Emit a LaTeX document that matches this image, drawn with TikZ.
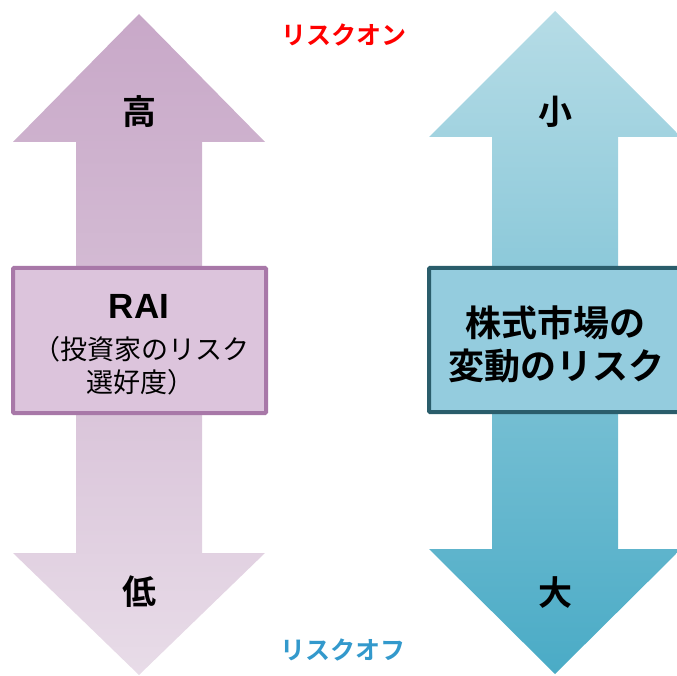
\documentclass[tikz,border=0pt]{standalone}
\usepackage{fontspec}
\newfontfamily\jp{Noto Sans CJK JP}[BoldFont={Noto Sans CJK JP Bold}]
\newfontfamily\lat{Liberation Sans}
\definecolor{lpurpTop}{HTML}{C8A8C8}
\definecolor{lpurpBot}{HTML}{E8DCE8}
\definecolor{lblueTop}{HTML}{B6DCE6}
\definecolor{lblueBot}{HTML}{4AABC6}
\definecolor{lboxFill}{HTML}{DCC4DC}
\definecolor{lboxLine}{HTML}{A878A8}
\definecolor{rboxFill}{HTML}{94CCDE}
\definecolor{rboxLine}{HTML}{2A5D6B}
\definecolor{onRed}{HTML}{FF0000}
\definecolor{offBlue}{HTML}{3399CC}
\tikzset{
  labelbig/.style={font=\jp\bfseries\fontsize{34}{34}\selectfont, inner sep=0pt, text=black},
  boxtxt/.style={font=\jp\fontsize{27}{27}\selectfont, inner sep=0pt, text=black},
  boxtxtb/.style={font=\jp\bfseries\fontsize{36}{36}\selectfont, inner sep=0pt, text=black},
  sidetxt/.style={font=\jp\bfseries\fontsize{25}{25}\selectfont, inner sep=0pt},
  lbox/.style={draw=lboxLine, fill=lboxFill, line width=4pt, rectangle, rounded corners=1pt, inner sep=0pt},
  rbox/.style={draw=rboxLine, fill=rboxFill, line width=4pt, rectangle, rounded corners=1pt, inner sep=0pt}
}
\begin{document}
\begin{tikzpicture}[x=1pt,y=-1pt]
\useasboundingbox (0,0) rectangle (677,676);
\clip (0,0) rectangle (677,676);
% left double arrow
\shade[top color=lpurpTop, bottom color=lpurpBot, middle color=lpurpTop!55!lpurpBot]
  (139,14) -- (265,142) -- (202,142) -- (202,553) -- (265,553) -- (139,675)
  -- (13,553) -- (76,553) -- (76,142) -- (13,142) -- cycle;
% right double arrow
\shade[top color=lblueTop, bottom color=lblueBot]
  (555,11) -- (681,137) -- (618,137) -- (618,549) -- (681,549) -- (555,674)
  -- (429,549) -- (492,549) -- (492,137) -- (429,137) -- cycle;
% boxes
\node[lbox, minimum width=253pt, minimum height=145pt] (leftbox) at (139.5,340.5) {};
\node[rbox, minimum width=262pt, minimum height=144pt] (rightbox) at (560,340) {};
% left box text
\node[font=\lat\bfseries\fontsize{35}{35}\selectfont, inner sep=0pt] (rai) at (139,306) {RAI};
\node[boxtxt] (rai2) at (141,349) {（投資家のリスク};
\node[boxtxt] (rai3) at (140,382) {選好度）};
% right box text
\node[boxtxtb] (stock1) at (555,323) {株式市場の};
\node[boxtxtb] (stock2) at (556,366) {変動のリスク};
% arrow labels
\node[labelbig] (high) at (139,112) {高};
\node[labelbig] (low) at (139,592) {低};
\node[labelbig] (small) at (555,112) {小};
\node[labelbig] (big) at (555,593) {大};
% risk on/off
\node[sidetxt, text=onRed] (riskon) at (344,35) {リスクオン};
\node[sidetxt, text=offBlue] (riskoff) at (343,650) {リスクオフ};
\end{tikzpicture}
\end{document}
